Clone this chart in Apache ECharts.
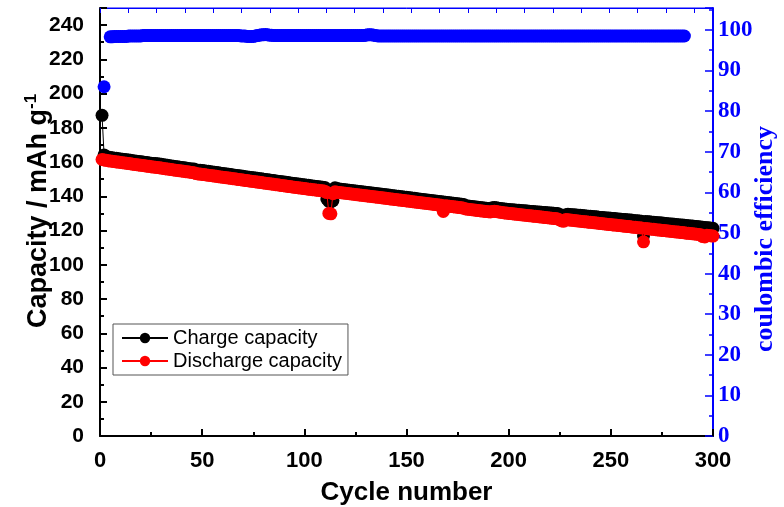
<!DOCTYPE html>
<html lang="en" style="height: 100%">
<head>
    <meta charset="utf-8">
    <title>Cycling performance</title>
</head>
<body style="height: 100%; margin: 0; background: #fff; overflow: hidden">
    <div id="container" style="width: 784px; height: 507px"></div>
    <script src="https://cdn.jsdelivr.net/npm/echarts/dist/echarts.min.js"></script>
    <script>
    // charge capacity, cycle 1..300 (mAh/g)
    var charge = [
        187.3, 164.2, 163.0, 162.9, 162.7, 162.5, 162.3, 162.2, 162.0, 161.8,
        161.7, 161.5, 161.3, 161.2, 161.0, 160.8, 160.7, 160.5, 160.3, 160.2,
        160.0, 159.8, 159.7, 159.5, 159.3, 159.2, 159.1, 159.0, 158.9, 158.7,
        158.5, 158.3, 158.1, 157.9, 157.7, 157.5, 157.3, 157.2, 157.0, 156.9,
        156.7, 156.5, 156.3, 156.1, 156.0, 155.9, 155.4, 155.3, 155.2, 155.1,
        154.9, 154.7, 154.6, 154.4, 154.2, 154.0, 153.9, 153.7, 153.5, 153.4,
        153.2, 153.0, 152.9, 152.7, 152.5, 152.3, 152.2, 152.0, 151.8, 151.7,
        151.5, 151.3, 151.2, 151.0, 150.8, 150.7, 150.5, 150.3, 150.2, 150.0,
        149.8, 149.7, 149.5, 149.3, 149.2, 149.0, 148.8, 148.7, 148.5, 148.3,
        148.2, 148.0, 147.8, 147.7, 147.5, 147.3, 147.2, 147.0, 146.8, 146.7,
        146.5, 146.4, 146.2, 146.1, 145.9, 145.8, 145.6, 145.5, 145.3, 145.2,
        138.5, 137.0, 136.8, 137.5, 145.0, 144.5, 144.3, 144.2, 144.0, 143.9,
        143.7, 143.6, 143.4, 143.3, 143.1, 143.0, 142.8, 142.7, 142.5, 142.4,
        142.2, 142.1, 141.9, 141.8, 141.6, 141.5, 141.3, 141.2, 141.0, 140.9,
        140.7, 140.6, 140.4, 140.3, 140.1, 140.0, 139.8, 139.7, 139.5, 139.4,
        139.2, 139.1, 138.9, 138.8, 138.6, 138.5, 138.3, 138.2, 138.0, 137.9,
        137.7, 137.6, 137.4, 137.3, 137.1, 137.0, 136.8, 136.7, 136.5, 136.4,
        136.2, 136.1, 135.9, 135.8, 135.6, 135.5, 135.3, 135.2, 134.5, 134.4,
        134.2, 134.1, 133.9, 133.8, 133.6, 133.5, 133.3, 133.2, 133.0, 132.9,
        132.8, 133.3, 133.4, 133.3, 133.1, 132.9, 132.7, 132.6, 132.5, 132.3,
        132.2, 132.1, 132.0, 131.9, 131.8, 131.7, 131.6, 131.5, 131.4, 131.3,
        131.2, 131.1, 131.0, 130.9, 130.8, 130.7, 130.6, 130.5, 130.4, 130.3,
        130.2, 130.1, 130.0, 129.9, 129.4, 128.8, 128.6, 129.2, 129.5, 129.4,
        129.3, 129.2, 129.1, 129.0, 128.9, 128.8, 128.6, 128.5, 128.4, 128.3,
        128.2, 128.1, 128.0, 127.8, 127.7, 127.6, 127.5, 127.4, 127.3, 127.2,
        127.1, 127.0, 126.8, 126.7, 126.6, 126.5, 126.4, 126.3, 126.2, 126.1,
        125.9, 125.8, 125.7, 125.6, 125.5, 117.0, 125.3, 125.2, 125.1, 124.9,
        124.8, 124.7, 124.6, 124.5, 124.4, 124.2, 124.1, 124.0, 123.9, 123.8,
        123.7, 123.5, 123.4, 123.3, 123.2, 123.1, 122.9, 122.8, 122.7, 122.6,
        122.4, 122.3, 122.2, 122.1, 121.9, 121.8, 121.7, 121.6, 121.4, 121.3
    ];
    // discharge capacity, cycle 1..300 (mAh/g)
    var discharge = [
        161.5, 161.2, 161.0, 160.8, 160.6, 160.5, 160.3, 160.1, 160.0, 159.8,
        159.6, 159.5, 159.3, 159.1, 159.0, 158.8, 158.6, 158.5, 158.3, 158.1,
        158.0, 157.8, 157.6, 157.5, 157.3, 157.1, 157.0, 156.9, 156.7, 156.5,
        156.3, 156.1, 155.9, 155.8, 155.6, 155.4, 155.3, 155.1, 154.9, 154.8,
        154.6, 154.4, 154.3, 154.1, 153.9, 153.8, 153.3, 153.1, 153.0, 152.8,
        152.7, 152.5, 152.3, 152.2, 152.0, 151.8, 151.7, 151.5, 151.3, 151.2,
        151.0, 150.8, 150.7, 150.5, 150.3, 150.2, 150.0, 149.8, 149.7, 149.5,
        149.3, 149.2, 149.0, 148.8, 148.7, 148.5, 148.3, 148.2, 148.0, 147.8,
        147.7, 147.5, 147.3, 147.2, 147.0, 146.8, 146.7, 146.5, 146.3, 146.2,
        146.0, 145.8, 145.7, 145.5, 145.3, 145.2, 145.0, 144.8, 144.7, 144.5,
        144.4, 144.2, 144.1, 143.9, 143.8, 143.6, 143.5, 143.3, 143.2, 143.0,
        142.2, 130.0, 129.8, 141.5, 142.6, 142.4, 142.3, 142.1, 142.0, 141.8,
        141.7, 141.5, 141.4, 141.2, 141.1, 140.9, 140.8, 140.6, 140.5, 140.3,
        140.2, 140.0, 139.9, 139.7, 139.6, 139.4, 139.3, 139.1, 139.0, 138.8,
        138.7, 138.5, 138.4, 138.2, 138.1, 137.9, 137.8, 137.6, 137.5, 137.3,
        137.2, 137.0, 136.9, 136.7, 136.6, 136.4, 136.3, 136.1, 136.0, 135.8,
        135.7, 135.5, 135.4, 135.2, 135.1, 134.9, 134.8, 131.2, 134.5, 134.3,
        134.2, 134.0, 133.9, 133.7, 133.6, 133.4, 133.3, 133.1, 132.6, 132.5,
        132.3, 132.2, 132.0, 131.9, 131.7, 131.6, 131.4, 131.3, 131.1, 131.0,
        130.9, 131.2, 131.3, 131.1, 130.9, 130.7, 130.5, 130.3, 130.2, 130.0,
        129.9, 129.8, 129.6, 129.5, 129.4, 129.2, 129.1, 129.0, 128.8, 128.7,
        128.6, 128.4, 128.3, 128.2, 128.0, 127.9, 127.8, 127.6, 127.5, 127.4,
        127.2, 127.1, 127.0, 126.8, 126.2, 125.6, 125.5, 126.4, 126.3, 126.1,
        126.0, 125.9, 125.7, 125.6, 125.5, 125.3, 125.2, 125.1, 124.9, 124.8,
        124.7, 124.5, 124.4, 124.3, 124.1, 124.0, 123.9, 123.7, 123.6, 123.5,
        123.3, 123.2, 123.1, 122.9, 122.8, 122.7, 122.5, 122.4, 122.3, 122.1,
        122.0, 121.9, 121.7, 121.6, 121.5, 113.4, 121.2, 121.1, 120.9, 120.8,
        120.7, 120.5, 120.4, 120.3, 120.1, 120.0, 119.9, 119.7, 119.6, 119.5,
        119.3, 119.2, 119.1, 118.9, 118.8, 118.7, 118.5, 118.4, 118.3, 118.1,
        118.0, 117.9, 117.7, 117.6, 116.5, 116.3, 117.2, 117.1, 116.9, 116.8
    ];
    // coulombic efficiency (%), cycle 2..286 (cycles 3-4 not recorded)
    var ceStart = 2;
    var efficiency = [
        86.0, null, null,
        98.3, 98.3, 98.4, 98.4, 98.4, 98.4, 98.4, 98.4, 98.4, 98.5, 98.5, 98.5, 98.5, 98.5, 98.5, 98.5,
        98.6, 98.6, 98.6, 98.6, 98.6, 98.6, 98.6, 98.6, 98.6, 98.6, 98.6, 98.6, 98.6, 98.6, 98.6, 98.6,
        98.6, 98.6, 98.6, 98.6, 98.6, 98.6, 98.6, 98.6, 98.6, 98.6, 98.6, 98.6, 98.6, 98.6, 98.6, 98.6,
        98.6, 98.6, 98.6, 98.6, 98.6, 98.6, 98.6, 98.6, 98.6, 98.6, 98.6, 98.6, 98.6, 98.6, 98.6, 98.6,
        98.5, 98.5, 98.5, 98.4, 98.4, 98.4, 98.4, 98.5, 98.6, 98.7, 98.8, 98.8, 98.9, 98.8, 98.7, 98.7,
        98.6, 98.6, 98.6, 98.6, 98.6, 98.6, 98.6, 98.6, 98.6, 98.6, 98.6, 98.6, 98.6, 98.6, 98.6, 98.6,
        98.6, 98.6, 98.6, 98.6, 98.6, 98.6, 98.6, 98.6, 98.6, 98.6, 98.6, 98.6, 98.6, 98.6, 98.6, 98.6,
        98.6, 98.6, 98.6, 98.6, 98.6, 98.6, 98.6, 98.6, 98.6, 98.6, 98.6, 98.6, 98.6, 98.7, 98.8, 98.8,
        98.8, 98.7, 98.6, 98.5, 98.5, 98.5, 98.5, 98.5, 98.5, 98.5, 98.5, 98.5, 98.5, 98.5, 98.5, 98.5,
        98.5, 98.5, 98.5, 98.5, 98.5, 98.5, 98.5, 98.5, 98.5, 98.5, 98.5, 98.5, 98.5, 98.5, 98.5, 98.5,
        98.5, 98.5, 98.5, 98.5, 98.5, 98.5, 98.5, 98.5, 98.5, 98.5, 98.5, 98.5, 98.5, 98.5, 98.5, 98.5,
        98.5, 98.5, 98.5, 98.5, 98.5, 98.5, 98.5, 98.5, 98.5, 98.5, 98.5, 98.5, 98.5, 98.5, 98.5, 98.5,
        98.5, 98.5, 98.5, 98.5, 98.5, 98.5, 98.5, 98.5, 98.5, 98.5, 98.5, 98.5, 98.5, 98.5, 98.5, 98.5,
        98.5, 98.5, 98.5, 98.5, 98.5, 98.5, 98.5, 98.5, 98.5, 98.5, 98.5, 98.5, 98.5, 98.5, 98.5, 98.5,
        98.5, 98.5, 98.5, 98.5, 98.5, 98.5, 98.5, 98.5, 98.5, 98.5, 98.5, 98.5, 98.5, 98.5, 98.5, 98.5,
        98.5, 98.5, 98.5, 98.5, 98.5, 98.5, 98.5, 98.5, 98.5, 98.5, 98.5, 98.5, 98.5, 98.5, 98.5, 98.5,
        98.5, 98.5, 98.5, 98.5, 98.5, 98.5, 98.5, 98.5, 98.5, 98.5, 98.5, 98.5, 98.5, 98.5, 98.5, 98.5,
        98.5, 98.5, 98.5, 98.5, 98.5, 98.5, 98.5, 98.5, 98.5, 98.5
    ];
    var seriesNames = ['Charge capacity', 'Discharge capacity', 'coulombic efficiency'];

    var chargeData = charge.map(function (v, i) { return [i + 1, v]; });
    var dischargeData = discharge.map(function (v, i) { return [i + 1, v]; });
    var ceData = efficiency.map(function (v, i) { return [i + ceStart, v]; });

    var dom = document.getElementById('container');
    var myChart = echarts.init(dom, null, { renderer: 'canvas' });

    var sans = 'Liberation Sans, Arial, sans-serif';
    var serif = 'Liberation Serif, Times New Roman, serif';

    var option = {
        animation: false,
        backgroundColor: '#fff',
        grid: {
            left: 100, right: 71, top: 8, bottom: 71,
            outerBoundsMode: 'none',
            show: true, borderColor: '#0000ff', borderWidth: 1
        },
        legend: {
            data: [seriesNames[0], seriesNames[1]],
            orient: 'vertical',
            left: 113, top: 324,
            padding: [4, 6, 4, 8],
            itemGap: 3,
            itemWidth: 46, itemHeight: 13,
            borderColor: '#555', borderWidth: 1, borderRadius: 0,
            textStyle: { fontFamily: sans, fontSize: 20, color: '#000' }
        },
        xAxis: [
            {   // bottom axis
                type: 'value', position: 'bottom',
                min: 0, max: 300, interval: 50,
                axisLine: { onZero: false, lineStyle: { color: '#000', width: 2 } },
                axisTick: { inside: true, length: 7, lineStyle: { width: 2 } },
                minorTick: { show: true, splitNumber: 2, length: 4, lineStyle: { color: '#000', width: 2 } },
                splitLine: { show: false },
                axisLabel: { fontFamily: sans, fontSize: 22, fontWeight: 'bold', color: '#000', margin: 14 },
                name: 'Cycle number', nameLocation: 'middle', nameGap: 44,
                nameTextStyle: { fontFamily: sans, fontSize: 26, fontWeight: 'bold', color: '#000' }
            },
            {   // top frame
                type: 'value', position: 'top',
                min: 0, max: 300, interval: 13.85,
                axisLine: { onZero: false, lineStyle: { color: '#0000ff', width: 1 } },
                axisTick: { inside: true, length: 5, lineStyle: { color: '#0000ff', width: 1 } },
                axisLabel: { show: false },
                splitLine: { show: false }
            }
        ],
        yAxis: [
            {   // capacity
                type: 'value', position: 'left',
                min: 0, max: 250, interval: 20,
                axisLine: { show: true, onZero: false, lineStyle: { color: '#000', width: 2 } },
                axisTick: { show: true, inside: true, length: 7, lineStyle: { width: 2 } },
                minorTick: { show: true, splitNumber: 2, length: 4, lineStyle: { color: '#000', width: 2 } },
                splitLine: { show: false },
                axisLabel: { fontFamily: sans, fontSize: 21, fontWeight: 'bold', color: '#000', margin: 16, showMaxLabel: false },
                name: 'Capacity / mAh g{sup|-1}', nameLocation: 'middle', nameGap: 46,
                nameMoveOverlap: false,
                nameTextStyle: {
                    fontFamily: sans, fontSize: 27, fontWeight: 'bold', color: '#000',
                    padding: [0, 0, 0, 22],
                    rich: { sup: { fontFamily: sans, fontSize: 17, fontWeight: 'bold', color: '#000', padding: [0, 0, 14, 0] } }
                }
            },
            {   // coulombic efficiency
                type: 'value', position: 'right',
                min: 0, max: 105.4, interval: 10,
                axisLine: { show: true, onZero: false, lineStyle: { color: '#0000ff', width: 2 } },
                axisTick: { show: false },
                minorTick: { show: false },
                splitLine: { show: false },
                axisLabel: { fontFamily: serif, fontSize: 23, fontWeight: 'bold', color: '#0000ff', margin: 5, showMaxLabel: false },
                name: 'coulombic efficiency', nameLocation: 'middle', nameGap: 39,
                nameMoveOverlap: false,
                nameTextStyle: {
                    fontFamily: serif, fontSize: 26, fontWeight: 'bold', color: '#0000ff',
                    padding: [0, 34, 0, 0]
                }
            },
            {   // tick marks of the efficiency axis
                type: 'value', position: 'right',
                min: 0, max: 105.4, interval: 10,
                axisLine: { show: false, onZero: false },
                axisTick: { show: true, inside: true, length: 8, lineStyle: { color: '#0000ff', width: 1.5 } },
                minorTick: { show: true, splitNumber: 2, length: 4, lineStyle: { color: '#0000ff', width: 1.5 } },
                splitLine: { show: false },
                axisLabel: { show: false }
            }
        ],
        series: [
            {
                name: seriesNames[0], type: 'line',
                xAxisIndex: 0, yAxisIndex: 0,
                symbol: 'circle', symbolSize: 13, showAllSymbol: true,
                itemStyle: { color: '#000' },
                lineStyle: { color: '#000', width: 1 },
                z: 2,
                data: chargeData
            },
            {
                name: seriesNames[1], type: 'line',
                xAxisIndex: 0, yAxisIndex: 0,
                symbol: 'circle', symbolSize: 13, showAllSymbol: true,
                itemStyle: { color: '#ff0000' },
                lineStyle: { color: '#ff0000', width: 1 },
                z: 3,
                data: dischargeData
            },
            {
                name: seriesNames[2], type: 'line',
                xAxisIndex: 0, yAxisIndex: 1,
                symbol: 'circle', symbolSize: 13, showAllSymbol: true,
                itemStyle: { color: '#0000ff' },
                lineStyle: { width: 0 },
                z: 4,
                data: ceData
            }
        ]
    };

    myChart.setOption(option);
    window.addEventListener('resize', myChart.resize);
    </script>
</body>
</html>
